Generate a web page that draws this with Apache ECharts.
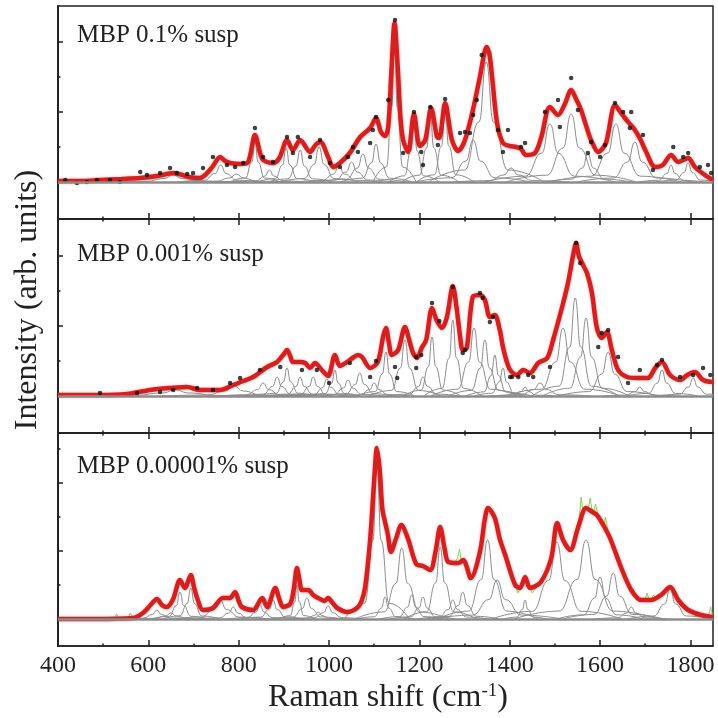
<!DOCTYPE html>
<html>
<head>
<meta charset="utf-8">
<script src="https://cdn.jsdelivr.net/npm/echarts@6/dist/echarts.min.js"></script>
<style>
  html, body { margin: 0; padding: 0; background: #fff; }
  #main { width: 718px; height: 718px; }
</style>
</head>
<body>
<div id="main"></div>
<script>
// x axis ticks (Raman shift, cm-1)
const xMajorTicks = [400, 600, 800, 1000, 1200, 1400, 1600, 1800];
const xMinorTicks = [500, 700, 900, 1100, 1300, 1500, 1700];

const panelNames = ['MBP 0.1% susp', 'MBP 0.001% susp', 'MBP 0.00001% susp'];

// fitted spectrum (red), [shift, intensity]
const fit1 = [[400,1],[450,1],[493,2],[540,3],[582,4],[620,6],[655,9],[690,5],[714,4],[740,14],[759,25],[770,21],[781,19],[803,18],[821,20],[836,47],[848,28],[854,22],[876,19],[890,24],[907,42],[920,32],[936,42],[958,30],[970,37],[981,40],[998,25],[1009,15],[1024,19],[1046,29],[1069,45],[1091,54],[1104,64],[1115,50],[1124,46],[1131,55],[1138,110],[1145,159],[1152,115],[1158,65],[1164,42],[1175,30],[1188,68],[1201,36],[1213,42],[1226,74],[1239,45],[1244,44],[1257,79],[1272,42],[1286,31],[1301,42],[1319,73],[1334,105],[1349,135],[1355,128],[1361,105],[1372,59],[1385,39],[1400,36],[1414,35],[1425,33],[1436,27],[1456,29],[1470,45],[1489,75],[1507,67],[1522,78],[1536,92],[1548,82],[1558,72],[1570,55],[1580,42],[1596,30],[1613,39],[1633,77],[1645,70],[1655,64],[1666,58],[1677,52],[1690,42],[1700,32],[1722,15],[1739,17],[1757,27],[1773,20],[1784,22],[1795,24],[1810,15],[1832,7],[1850,2]];
const fit2 = [[400,1],[450,1],[493,1],[553,2],[604,6],[650,8],[686,9],[714,6],[740,6],[759,6],[788,11],[810,15],[832,19],[863,29],[885,34],[900,42],[907,46],[914,40],[920,34],[936,34],[947,33],[958,28],[969,33],[984,26],[998,20],[1013,41],[1024,30],[1040,34],[1052,38],[1064,41],[1073,39],[1091,28],[1108,34],[1120,60],[1126,68],[1133,52],[1139,41],[1153,46],[1168,69],[1178,55],[1186,43],[1195,38],[1205,48],[1215,56],[1228,88],[1238,76],[1250,68],[1261,79],[1274,110],[1283,86],[1290,60],[1296,46],[1305,48],[1318,99],[1334,101],[1345,96],[1356,79],[1367,81],[1378,66],[1385,49],[1393,35],[1401,26],[1416,21],[1430,26],[1445,23],[1463,33],[1483,38],[1496,56],[1516,89],[1529,113],[1540,140],[1547,153],[1553,140],[1560,133],[1571,123],[1582,103],[1593,68],[1604,58],[1615,64],[1626,46],[1640,26],[1660,19],[1682,18],[1706,18],[1722,28],[1737,34],[1755,21],[1777,16],[1793,21],[1810,24],[1828,16],[1850,14]];
const fit3 = [[400,0],[480,0],[566,1],[588,6],[605,14],[619,20],[630,14],[641,12],[655,20],[670,39],[681,31],[694,44],[701,32],[708,21],[721,9],[743,11],[765,21],[781,21],[792,27],[800,18],[807,12],[832,9],[852,21],[863,12],[881,31],[890,20],[898,12],[914,15],[922,30],[929,51],[935,38],[940,29],[954,29],[965,24],[976,21],[990,18],[998,21],[1008,16],[1018,11],[1040,7],[1062,11],[1072,18],[1080,32],[1091,79],[1100,139],[1106,171],[1112,150],[1118,110],[1124,97],[1130,85],[1137,67],[1148,80],[1160,94],[1175,80],[1193,55],[1208,53],[1224,49],[1236,68],[1246,92],[1256,70],[1264,57],[1286,56],[1297,59],[1314,41],[1334,67],[1345,100],[1352,111],[1367,101],[1378,80],[1390,64],[1412,34],[1423,31],[1434,42],[1445,31],[1469,37],[1492,61],[1505,96],[1518,79],[1534,69],[1551,91],[1569,111],[1580,108],[1593,104],[1607,94],[1622,81],[1647,51],[1669,29],[1691,19],[1713,19],[1735,24],[1755,32],[1773,19],[1795,9],[1824,4],[1850,2]];

// measured points (black dots)
const dots1 = [[416,2],[442,-1],[464,0],[486,2],[515,2],[537,0],[582,10],[597,7],[626,9],[648,14],[663,9],[686,8],[699,9],[721,14],[743,25],[774,17],[792,15],[810,19],[836,54],[854,25],[876,20],[907,45],[920,29],[931,45],[958,25],[980,42],[1002,19],[1024,15],[1042,25],[1053,35],[1064,30],[1091,39],[1097,52],[1104,65],[1131,82],[1146,162],[1164,29],[1188,70],[1204,30],[1208,17],[1224,75],[1241,37],[1257,83],[1290,49],[1301,50],[1312,49],[1319,67],[1327,82],[1338,127],[1374,52],[1385,30],[1396,52],[1425,35],[1434,39],[1478,70],[1507,82],[1511,55],[1536,104],[1551,72],[1573,29],[1580,40],[1600,25],[1611,37],[1633,79],[1651,70],[1666,54],[1669,70],[1695,47],[1717,12],[1762,35],[1784,25],[1795,29],[1821,15],[1839,17],[1846,9]];
const dots2 = [[493,3],[575,3],[626,4],[655,6],[708,8],[743,6],[781,13],[803,18],[847,26],[892,29],[940,26],[973,26],[1000,13],[1046,33],[1091,19],[1104,35],[1146,29],[1151,18],[1193,28],[1193,39],[1204,41],[1228,93],[1244,75],[1274,109],[1296,43],[1301,46],[1334,103],[1340,98],[1356,74],[1363,79],[1401,19],[1405,19],[1419,19],[1441,21],[1452,19],[1489,29],[1547,153],[1556,133],[1596,49],[1604,63],[1618,66],[1640,39],[1662,13],[1688,26],[1726,31],[1737,36],[1777,19],[1806,21],[1828,28],[1844,21]];
// raw spectrum of the last panel (thin green); only the bits that stick out
// from under the fit are listed, '-' breaks the line between them
const raw3 = [[525,1],[530,5],[535,1],[540,'-'],
  [555,1],[560,6],[566,1],[570,'-'],
  [1278,57],[1284,60],[1289,70],[1293,55],[1300,58],[1305,'-'],
  [1412,34],[1418,26],[1426,33],[1430,'-'],
  [1446,30],[1450,26],[1456,30],[1462,37],[1469,34],[1475,'-'],
  [1553,95],[1558,122],[1562,108],[1568,112],[1574,110],[1578,121],[1584,104],[1590,115],[1596,102],[1602,98],[1608,93],[1612,102],[1618,86],[1622,'-'],
  [1698,18],[1704,26],[1710,17],[1718,24],[1724,20],[1730,'-'],
  [1840,3],[1845,12],[1849,3]];

// fitted bands (grey), [centre, height, half width]
const peaks1 = [[655,7,20],[760,17,12],[795,8,15],[836,40,7],[868,12,10],[905,34,8],[936,32,9],[978,35,11],[1022,16,12],[1050,20,12],[1075,28,12],[1104,38,10],[1145,150,6],[1188,62,7],[1224,68,8],[1257,72,8],[1319,42,16],[1348,120,16],[1403,14,16],[1489,58,18],[1536,68,18],[1573,28,12],[1635,58,18],[1677,40,16],[1757,17,9],[1795,19,9]];
const peaks2 = [[660,6,30],[790,10,20],[854,13,12],[885,19,10],[907,28,8],[936,19,9],[965,19,9],[995,17,9],[1013,26,7],[1042,16,10],[1068,23,10],[1100,13,10],[1126,44,8],[1168,56,10],[1208,19,10],[1228,59,8],[1274,76,8],[1321,68,12],[1345,56,10],[1367,41,8],[1385,28,8],[1434,9,8],[1467,13,14],[1518,68,16],[1545,98,12],[1569,78,12],[1618,44,14],[1688,9,10],[1737,26,10],[1806,18,10]];
const peaks3 = [[619,9,10],[650,6,12],[670,27,8],[694,31,8],[759,19,14],[788,12,10],[847,14,9],[876,19,9],[929,34,5],[951,21,10],[976,7,8],[998,13,10],[1106,158,9],[1124,22,8],[1161,71,13],[1183,24,9],[1208,22,9],[1246,72,10],[1274,19,10],[1296,27,10],[1351,79,14],[1372,39,18],[1434,19,6],[1504,77,18],[1569,79,20],[1600,42,12],[1629,46,14],[1669,12,10],[1755,30,12]];

// y ticks, one set per panel
const yMajorTicks = [[0, 70, 140], [0, 70, 140], [0, 68, 136]];
const yMinorTicks = [[35, 105], [35, 105], [34, 102, 170]];

const fits = [fit1, fit2, fit3];
const dots = [dots1, dots2, null];
const peaks = [peaks1, peaks2, peaks3];

const serif = "'Liberation Serif', 'Times New Roman', serif";
const ink = '#222';

// panel layout
const grids = [
  { left: 58, right: 5, top: 6, height: 213 },
  { left: 58, right: 5, top: 219, height: 214 },
  { left: 58, right: 5, top: 433, height: 213 }
];
const yRange = [[-37, 176], [-37, 177], [-27, 186]];

// one grey band -> a few points for a smooth line
function bandPoints(p) {
  const c = p[0], h = p[1], w = p[2];
  return [[c - 8 * w, 0], [c - 3 * w, h * 0.1], [c - w, h * 0.5], [c, h],
          [c + w, h * 0.5], [c + 3 * w, h * 0.1], [c + 8 * w, 0]];
}

function xAxisFor(i, position, ticks, len, withLine, withLabels) {
  return {
    gridIndex: i, type: 'value', min: 400, max: 1850, position: position,
    axisLine: { show: withLine, onZero: false, lineStyle: { color: ink, width: 1.5 } },
    axisTick: { show: true, inside: true, length: len, customValues: ticks, lineStyle: { color: ink, width: 1.5 } },
    axisLabel: {
      show: withLabels, customValues: xMajorTicks, margin: 8, color: ink, fontFamily: serif, fontSize: 24,
      formatter: function (v) { return String(v); }
    },
    splitLine: { show: false }
  };
}

function yAxisFor(i, ticks, len) {
  return {
    gridIndex: i, type: 'value', min: yRange[i][0], max: yRange[i][1], position: 'left',
    axisLine: { show: true, onZero: false, lineStyle: { color: ink, width: 1.5 } },
    axisTick: { show: true, inside: true, length: len, customValues: ticks, lineStyle: { color: ink, width: 1.5 } },
    axisLabel: { show: false },
    splitLine: { show: false }
  };
}

const xAxes = [];
const yAxes = [];
const series = [];

for (let i = 0; i < 3; i++) {
  const xs = xAxes.length;
  xAxes.push(xAxisFor(i, 'bottom', xMajorTicks, 6, true, i === 2));
  xAxes.push(xAxisFor(i, 'bottom', xMinorTicks, 2.5, false, false));
  if (i > 0) {
    xAxes.push(xAxisFor(i, 'top', xMajorTicks, 6, true, false));
    xAxes.push(xAxisFor(i, 'top', xMinorTicks, 2.5, false, false));
  }
  const ys = yAxes.length;
  yAxes.push(yAxisFor(i, yMajorTicks[i], 5));
  yAxes.push(yAxisFor(i, yMinorTicks[i], 2.5));

  peaks[i].forEach(function (p, k) {
    const s = {
      type: 'line', xAxisIndex: xs, yAxisIndex: ys, data: bandPoints(p),
      smooth: 0.5, smoothMonotone: 'x', symbol: 'none', silent: true, z: 2,
      lineStyle: { color: '#8c8c8c', width: 1 }
    };
    if (k === 0) {
      // common zero line under all bands
      s.markLine = {
        silent: true, symbol: 'none', label: { show: false },
        lineStyle: { color: '#8c8c8c', width: 2.5, type: 'solid' },
        data: [{ yAxis: 0 }]
      };
    }
    series.push(s);
  });

  if (i === 2) {
    series.push({
      type: 'line', xAxisIndex: xs, yAxisIndex: ys, data: raw3,
      symbol: 'none', silent: true, z: 2, connectNulls: false,
      lineStyle: { color: '#8fcf5a', width: 1 }
    });
  }

  series.push({
    type: 'line', xAxisIndex: xs, yAxisIndex: ys, data: fits[i],
    smooth: 0.3, symbol: 'none', silent: true, z: 3,
    lineStyle: { color: '#d42020', width: 4.5, shadowColor: 'rgba(230,80,80,0.5)', shadowBlur: 3 }
  });

  if (dots[i]) {
    series.push({
      type: 'scatter', xAxisIndex: xs, yAxisIndex: ys, data: dots[i],
      symbolSize: 4.5, silent: true, z: 4,
      itemStyle: { color: '#111' }
    });
  }
}

const labelY = [38, 257, 469];

const option = {
  backgroundColor: '#fff',
  animation: false,
  grid: grids.map(function (g) {
    return Object.assign({ show: true, borderColor: ink, borderWidth: 1.5, backgroundColor: 'transparent' }, g);
  }),
  xAxis: xAxes,
  yAxis: yAxes,
  series: series,
  graphic: panelNames.map(function (name, i) {
    return {
      type: 'text', left: 77, top: labelY[i] - 15,
      style: { text: name, fill: ink, font: '25px ' + serif }
    };
  }).concat([
    {
      type: 'text', x: 388, y: 698,
      style: {
        text: 'Raman shift (cm{sup|-1})', fill: ink, font: '32px ' + serif,
        textAlign: 'center', textVerticalAlign: 'middle',
        rich: { sup: { fontSize: 19, fontFamily: serif, verticalAlign: 'top', padding: [0, 0, 12, 0] } }
      }
    },
    {
      type: 'text', x: 28, y: 300, rotation: Math.PI / 2,
      style: {
        text: 'Intensity (arb. units)', fill: ink, font: '32px ' + serif,
        textAlign: 'center', textVerticalAlign: 'middle'
      }
    }
  ])
};

const chart = echarts.init(document.getElementById('main'));
chart.setOption(option);
</script>
</body>
</html>
